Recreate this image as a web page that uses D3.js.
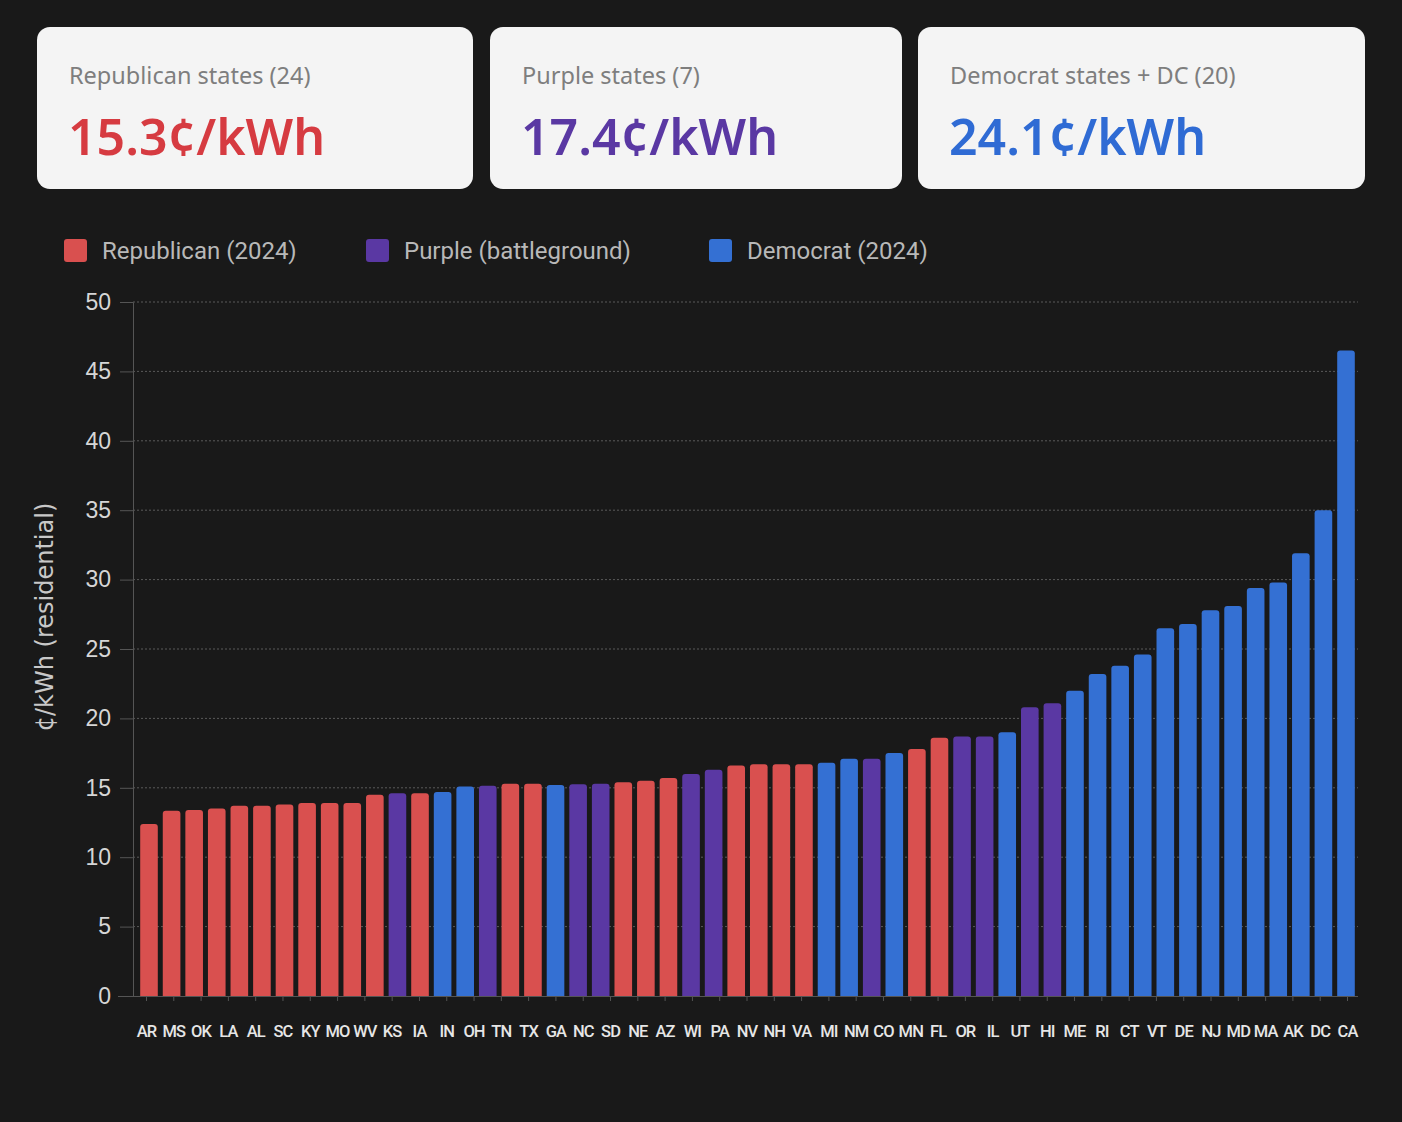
<!DOCTYPE html>
<html>
<head>
<meta charset="utf-8">
<script src="https://cdn.jsdelivr.net/npm/d3@7"></script>
<style>
  html, body { margin: 0; padding: 0; background: #191919; }
  svg { display: block; }
</style>
</head>
<body>
<svg width="1402" height="1122"></svg>
<script>
// summary cards
var cardTitles = ["Republican states (24)", "Purple states (7)", "Democrat states + DC (20)"];
var cardValues = [15.3, 17.4, 24.1];
var cardParty = ["R", "P", "D"];

// legend
var legendLabels = ["Republican (2024)", "Purple (battleground)", "Democrat (2024)"];
var legendParty = ["R", "P", "D"];

// bars, in drawn order (cents per kWh) and party of each bar
var prices = [12.4, 13.35, 13.4, 13.5, 13.7, 13.7, 13.8, 13.9, 13.9, 13.9,
              14.5, 14.6, 14.6, 14.7, 15.1, 15.15, 15.3, 15.3, 15.2, 15.25,
              15.3, 15.4, 15.5, 15.7, 16.0, 16.3, 16.6, 16.7, 16.7, 16.7,
              16.8, 17.1, 17.1, 17.5, 17.8, 18.6, 18.7, 18.7, 19.0, 20.8,
              21.1, 22.0, 23.2, 23.8, 24.6, 26.5, 26.8, 27.8, 28.1, 29.4,
              29.8, 31.9, 35.0, 46.5];
var parties = ["R","R","R","R","R","R","R","R","R","R",
               "R","P","R","D","D","P","R","R","D","P",
               "P","R","R","R","P","P","R","R","R","R",
               "D","D","P","D","R","R","P","P","D","P",
               "P","D","D","D","D","D","D","D","D","D",
               "D","D","D","D"];

// x tick labels
var states = ["AR","MS","OK","LA","AL","SC","KY","MO","WV","KS","IA","IN","OH","TN","TX",
              "GA","NC","SD","NE","AZ","WI","PA","NV","NH","VA","MI","NM","CO","MN","FL",
              "OR","IL","UT","HI","ME","RI","CT","VT","DE","NJ","MD","MA","AK","DC","CA"];

var yTicks = [0, 5, 10, 15, 20, 25, 30, 35, 40, 45, 50];

var barColor = { R: "#d9504f", P: "#5a38a3", D: "#3470d3" };
var textColor = { R: "#d63b41", P: "#5a38a3", D: "#2f6bd4" };

var svg = d3.select("svg");

// ---- cards ----
var cardX = [37, 490, 918],
    cardW = [436, 412, 447];

var cards = svg.append("g").selectAll("g")
    .data(cardTitles)
    .enter().append("g")
      .attr("transform", function(d, i) { return "translate(" + cardX[i] + ",27)"; });

cards.append("rect")
    .attr("width", function(d, i) { return cardW[i]; })
    .attr("height", 162)
    .attr("rx", 13)
    .attr("fill", "#f4f4f4");

cards.append("text")
    .attr("x", 32)
    .attr("y", 57)
    .attr("font-family", "'Noto Sans', sans-serif")
    .attr("font-size", 23.5)
    .attr("fill", "#7e7e7e")
    .text(function(d) { return d; });

cards.append("text")
    .attr("x", 31)
    .attr("y", 128)
    .attr("font-family", "'Noto Sans', sans-serif")
    .attr("font-size", 50)
    .attr("font-weight", 600)
    .attr("fill", function(d, i) { return textColor[cardParty[i]]; })
    .text(function(d, i) { return cardValues[i].toFixed(1) + "¢/kWh"; });

// ---- legend ----
var legendX = [64, 366, 709];
var legend = svg.append("g").selectAll("g")
    .data(legendLabels)
    .enter().append("g")
      .attr("transform", function(d, i) { return "translate(" + legendX[i] + ",239)"; });

legend.append("rect")
    .attr("width", 23)
    .attr("height", 23)
    .attr("rx", 3)
    .attr("fill", function(d, i) { return barColor[legendParty[i]]; });

legend.append("text")
    .attr("x", 38)
    .attr("y", 12)
    .attr("dy", "0.35em")
    .attr("font-family", "Roboto, sans-serif")
    .attr("font-size", 24)
    .attr("fill", "#b8b8b8")
    .text(function(d) { return d; });

// ---- chart ----
var plotLeft = 133, plotRight = 1358, plotTop = 302, plotBottom = 996;

var y = d3.scaleLinear().domain([0, 50]).range([plotBottom, plotTop]);

var step = (1346 - 149) / (prices.length - 1);
var x = d3.scaleBand()
    .domain(d3.range(prices.length))
    .range([149 - step / 2, 1346 + step / 2])
    .paddingInner(0.22)
    .paddingOuter(0.11);

var xl = d3.scalePoint()
    .domain(states)
    .range([146, 1347]);

// grid
svg.append("g")
  .selectAll("line")
  .data(yTicks.filter(function(d) { return d > 0; }))
  .enter().append("line")
    .attr("x1", plotLeft)
    .attr("x2", plotRight)
    .attr("y1", function(d) { return y(d); })
    .attr("y2", function(d) { return y(d); })
    .attr("stroke", "#5a5a5a")
    .attr("stroke-width", 1)
    .attr("stroke-dasharray", "2,2");

// y axis
var yAxis = svg.append("g")
    .attr("transform", "translate(" + plotLeft + ",0)")
    .call(d3.axisLeft(y).tickValues(yTicks).tickSize(13).tickPadding(9));
yAxis.select(".domain").attr("stroke", "#555");
yAxis.selectAll(".tick line").attr("stroke", "#555");
yAxis.selectAll("text")
    .attr("font-family", "'Liberation Sans', Arial, sans-serif")
    .attr("font-size", 23)
    .attr("fill", "#d6d6d6");

svg.append("text")
    .attr("transform", "translate(45," + ((plotTop + plotBottom) / 2 - 32) + ") rotate(-90)")
    .attr("text-anchor", "middle")
    .attr("dy", "0.35em")
    .attr("font-family", "'DejaVu Sans', sans-serif")
    .attr("font-size", 24)
    .attr("fill", "#c8c8c8")
    .text("¢/kWh (residential)");

// bars with rounded tops
function barPath(d, i) {
  var x0 = x(i), w = x.bandwidth(), y0 = y(d), r = 3, b = y(0);
  return "M" + x0 + "," + b +
         "V" + (y0 + r) +
         "Q" + x0 + "," + y0 + " " + (x0 + r) + "," + y0 +
         "H" + (x0 + w - r) +
         "Q" + (x0 + w) + "," + y0 + " " + (x0 + w) + "," + (y0 + r) +
         "V" + b + "Z";
}

svg.append("g")
  .selectAll("path")
  .data(prices)
  .enter().append("path")
    .attr("d", barPath)
    .attr("fill", function(d, i) { return barColor[parties[i]]; });

// x axis
var xAxis = svg.append("g")
    .attr("transform", "translate(0," + plotBottom + ")")
    .call(d3.axisBottom(xl).tickSize(5).tickPadding(24).tickSizeOuter(0));
xAxis.select(".domain").attr("d", "M118,0.5H" + plotRight).attr("stroke", "#555");
xAxis.selectAll(".tick line").attr("stroke", "#555");
xAxis.selectAll("text")
    .attr("font-family", "Roboto, sans-serif")
    .attr("font-size", 16.5)
    .attr("font-weight", 500)
    .attr("letter-spacing", "-0.9px")
    .attr("fill", "#e6e6e6");
</script>
</body>
</html>
